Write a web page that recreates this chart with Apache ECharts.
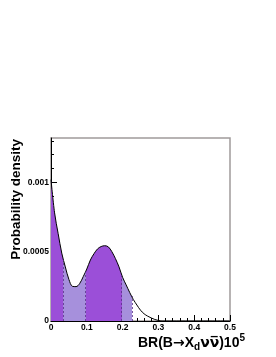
<!DOCTYPE html>
<html><head><meta charset="utf-8">
<script src="https://cdn.jsdelivr.net/npm/echarts@6/dist/echarts.min.js"></script>
<style>html,body{margin:0;padding:0;background:#fff}#c{width:276px;height:357px}</style>
</head><body><div id="c"></div>
<script>
const brValues = [0,0.01,0.02,0.03,0.04,0.05,0.06,0.07,0.08,0.09,0.10,0.11,0.12,0.13,0.14,0.15,0.16,0.17,0.18,0.19,0.20,0.21,0.22,0.23,0.24,0.25,0.26,0.27,0.28,0.29,0.30,0.31,0.35,0.40,0.45,0.50];
const density = [0.00102,0.00078,0.00063,0.00049,0.00039,0.00030,0.00025,0.000248,0.00027,0.00032,0.000375,0.00044,0.000485,0.00052,0.000537,0.000543,0.000535,0.0005,0.00045,0.00039,0.000315,0.00026,0.000205,0.000155,0.000115,0.000078,0.000052,0.000035,0.000022,0.000011,0.000004,0,0,0,0,0];
const bandEdges = [0.033,0.097,0.197,0.226];
const bandEdgeHeights = [0.00044,0.000357,0.000338,0.00018];
const xTicks = [0,0.1,0.2,0.3,0.4,0.5];
const yMajorTicks = [0,0.0005,0.001];
const yMinorTicks = [0.0001,0.0002,0.0003,0.0004,0.0006,0.0007,0.0008,0.0009,0.0011,0.0012,0.0013];
const yTickLabels = ['0','0.0005','0.001'];

const DARK = '#9b4fd8', LIGHT = '#a690dc';
const pts = brValues.map((x,i)=>[x,density[i]]);
const chart = echarts.init(document.getElementById('c'));
const lblFont = {fontFamily:'Liberation Sans',fontWeight:'bold',fontSize:8.5,color:'#000'};
chart.setOption({
  animation:false,
  grid:{left:51,right:46,top:138,bottom:36,show:true,borderColor:'#a09a9a',borderWidth:1.5,backgroundColor:'transparent'},
  xAxis:{type:'value',min:0,max:0.5,interval:0.1,
    axisLine:{onZero:false,lineStyle:{color:'#000',width:1}},
    axisTick:{inside:true,length:6,lineStyle:{color:'#000'}},
    minorTick:{show:true,splitNumber:5,length:3,lineStyle:{color:'#000'}},
    splitLine:{show:false},
    axisLabel:Object.assign({margin:2,formatter:v=>xTicks.indexOf(+v.toFixed(2))>=0?String(+v.toFixed(2)):''},lblFont)},
  yAxis:[{type:'value',min:0,max:0.00132,
    axisLine:{show:true,lineStyle:{color:'#000',width:1}},
    axisTick:{show:true,inside:true,length:6,customValues:yMajorTicks,lineStyle:{color:'#000'}},
    splitLine:{show:false},
    axisLabel:Object.assign({margin:2,customValues:yMajorTicks,formatter:v=>{const i=yMajorTicks.findIndex(t=>Math.abs(t-v)<1e-9);return i>=0?yTickLabels[i]:'';}},lblFont)},
   {type:'value',min:0,max:0.00132,position:'left',
    axisLine:{show:false},
    axisTick:{show:true,inside:true,length:3,customValues:yMinorTicks,lineStyle:{color:'#000'}},
    axisLabel:{show:false},splitLine:{show:false}}],
  visualMap:{show:false,type:'piecewise',dimension:0,seriesIndex:0,
    pieces:[{lt:bandEdges[0],color:DARK},{gte:bandEdges[0],lt:bandEdges[1],color:LIGHT},{gte:bandEdges[1],lt:bandEdges[2],color:DARK},{gte:bandEdges[2],lt:bandEdges[3],color:LIGHT},{gte:bandEdges[3],color:'rgba(255,255,255,0)'}]},
  series:[
    {type:'line',data:pts,smooth:0.35,showSymbol:false,lineStyle:{width:0},areaStyle:{opacity:1},z:1},
    {type:'line',data:pts,smooth:0.35,showSymbol:false,lineStyle:{color:'#000',width:1},z:3,
     markLine:{silent:true,symbol:'none',label:{show:false},lineStyle:{color:'#5a2f88',type:[2,2],width:1,opacity:0.8},
       data:bandEdges.map((b,i)=>[{coord:[b,0]},{coord:[b,bandEdgeHeights[i]]}])}}
  ],
  graphic:[
    {type:'text',x:16,y:139,rotation:Math.PI/2,style:{text:'Probability density',font:'bold 13.5px "Liberation Sans"',fill:'#000',align:'right',verticalAlign:'middle'}},
    {type:'text',x:245,y:343,style:{text:'{m|BR(B}{a|→}{m|X}{s|d}{g|νν\u0305}{m|)10}{p|5}',align:'right',verticalAlign:'middle',
      rich:{m:{font:'bold 14px "Liberation Sans"',fill:'#000',lineHeight:18,verticalAlign:'middle'},
            a:{font:'bold 14px "DejaVu Sans"',fill:'#000',lineHeight:18,verticalAlign:'middle'},
            g:{font:'bold 14px "DejaVu Sans"',fill:'#000',lineHeight:18,verticalAlign:'middle'},
            s:{font:'bold 10px "Liberation Sans"',fill:'#000',lineHeight:18,padding:[8,0,0,0],verticalAlign:'middle'},
            p:{font:'bold 10px "Liberation Sans"',fill:'#000',lineHeight:18,padding:[0,0,9,0],verticalAlign:'middle'}}}}
  ]
});
</script></body></html>
